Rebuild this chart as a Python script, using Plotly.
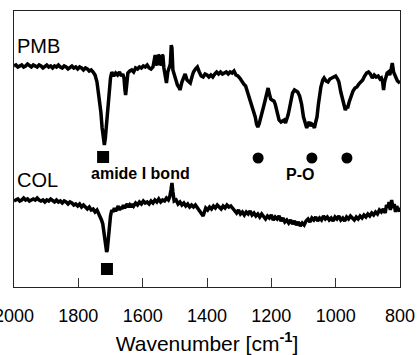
import plotly.graph_objects as go

# ---------------- data (arbitrary transmittance units) ----------------
pmb_wn = [2000,1994,1988,1982,1976,1970,1964,1958,1952,1946,1940,1934,1928,1922,1916,1910,1904,1898,1892,1886,
          1880,1874,1868,1862,1856,1850,1844,1838,1832,1826,1820,1814,1808,1802,1796,1790,1784,1778,1772,1766,
          1760,1754,1748,1742,1736,1730,1726,1722,1719,1716,1712,1708,1704,1700,1696,1690,1684,1678,1672,1666,
          1662,1658,1655,1653,1650,1646,1640,1634,1628,1622,1616,1610,1604,1598,1592,1586,1580,1574,1568,1564,
          1561,1558,1555,1552,1549,1546,1543,1540,1537,1534,1530,1526,1522,1518,1514,1511,1509,1506,1502,1498,
          1492,1486,1484,1478,1472,1468,1462,1456,1452,1446,1442,1436,1430,1424,1418,1412,1406,1400,1394,1388,
          1382,1376,1370,1364,1358,1352,1346,1340,1334,1328,1322,1316,1310,1304,1298,1292,1286,1280,1274,1268,
          1262,1256,1250,1246,1242,1238,1234,1228,1222,1216,1210,1206,1202,1198,1192,1188,1184,1180,1176,1170,
          1166,1160,1156,1152,1148,1144,1140,1134,1128,1122,1118,1112,1106,1100,1096,1090,1086,1082,1078,1074,
          1070,1066,1062,1058,1054,1050,1046,1040,1036,1030,1024,1018,1012,1006,1000,994,990,984,978,974,
          970,966,962,958,952,946,940,934,928,922,916,910,904,898,892,886,880,874,868,862,
          858,854,851,848,844,840,836,832,828,824,820,816,812,808,804,800]
pmb_t = [234,235,233,234,235,233,234,236,234,233,235,234,233,235,234,232,234,235,233,234,
         232,234,233,235,233,232,234,233,231,233,234,232,233,231,233,232,230,232,231,229,
         230,228,225,218,205,188,172,158,155,162,178,193,210,222,228,224,227,225,228,224,
         226,222,210,205,214,227,229,230,228,232,231,233,232,234,233,235,232,231,233,240,
         245,236,235,245,244,235,236,245,244,232,225,217,228,232,236,255,252,230,225,222,
         215,212,210,218,224,226,220,218,217,224,228,231,233,228,224,223,226,225,223,225,
         223,226,228,226,228,226,227,228,226,228,227,229,225,224,222,218,216,214,208,202,
         194,188,183,176,173,176,182,188,196,204,212,206,201,200,199,196,190,183,180,178,
         179,180,177,180,185,191,198,207,210,209,208,204,196,183,178,172,176,178,174,176,
         175,172,178,183,195,207,213,220,222,219,218,221,222,223,224,221,218,208,200,192,
         190,193,193,198,205,209,212,213,216,218,220,224,227,228,226,222,225,223,224,221,
         222,218,210,218,222,227,228,225,230,237,228,224,222,219,218,217]

col_wn = [2000,1994,1988,1982,1976,1970,1964,1958,1952,1946,1940,1934,1928,1922,1916,1910,1904,1898,1892,1886,
          1880,1874,1868,1862,1856,1850,1844,1838,1832,1826,1820,1814,1808,1802,1796,1790,1784,1778,1772,1766,
          1760,1754,1748,1742,1736,1732,1728,1724,1720,1716,1712,1710,1707,1704,1700,1696,1692,1688,1684,1680,
          1676,1672,1668,1664,1660,1656,1652,1648,1644,1640,1636,1632,1628,1622,1616,1610,1604,1598,1592,1586,
          1580,1574,1568,1562,1556,1550,1544,1538,1532,1526,1520,1516,1512,1509,1506,1502,1496,1490,1484,1478,
          1472,1466,1460,1454,1448,1442,1436,1430,1424,1418,1412,1408,1404,1398,1392,1386,1380,1374,1368,1362,
          1356,1350,1344,1338,1332,1326,1320,1314,1308,1302,1296,1290,1284,1278,1272,1266,1260,1254,1248,1242,
          1236,1230,1224,1218,1212,1206,1200,1194,1188,1182,1176,1170,1164,1158,1152,1146,1140,1134,1128,1122,
          1116,1110,1104,1098,1092,1086,1080,1074,1068,1062,1056,1050,1044,1038,1032,1026,1020,1014,1008,1002,
          996,990,984,978,972,966,960,954,948,942,936,930,924,918,912,906,900,894,888,882,
          876,870,864,858,852,846,842,838,834,830,826,822,818,814,810,806,802,800]
col_t = [99,100,101,99,100,102,100,101,99,100,101,100,102,100,99,100,98,100,99,101,
         99,98,100,98,99,97,99,98,96,98,97,95,96,94,96,93,95,93,91,93,
         90,91,88,90,86,84,80,76,68,58,48,50,62,76,84,90,88,92,89,91,
         94,90,93,91,95,92,94,96,93,95,93,96,94,97,95,98,96,99,97,98,
         96,99,97,100,98,101,98,100,99,102,100,103,110,117,108,99,100,96,98,95,
         97,94,96,93,95,93,95,92,89,86,84,88,92,90,93,91,94,92,95,93,
         91,94,92,95,93,94,92,89,87,90,86,88,85,88,86,89,85,87,84,86,
         83,86,84,81,84,82,85,80,83,81,84,79,82,78,80,77,80,76,79,75,
         78,74,77,75,79,81,78,82,80,83,79,82,80,84,81,83,80,82,79,83,
         81,84,80,82,79,83,81,84,82,80,83,81,84,82,85,83,86,84,87,85,
         88,86,90,88,91,87,95,92,98,90,100,92,96,88,94,89,92,88]

amide_wn = [1723, 1711]
amide_t = [143, 31]
po_wn = [1241, 1074, 965]
po_t = [142, 142, 142]

labels = ["PMB", "COL"]
label_t = [254, 120]
tick_vals = [2000, 1800, 1600, 1400, 1200, 1000, 800]

FONT = "Liberation Sans, Arial, sans-serif"

fig = go.Figure()
fig.add_trace(go.Scatter(x=pmb_wn, y=pmb_t, mode="lines", line=dict(color="black", width=3.5), showlegend=False))
fig.add_trace(go.Scatter(x=col_wn, y=col_t, mode="lines", line=dict(color="black", width=3.5), showlegend=False))
fig.add_trace(go.Scatter(x=amide_wn, y=amide_t, mode="markers",
                         marker=dict(symbol="square", size=12, color="black"), showlegend=False))
fig.add_trace(go.Scatter(x=po_wn, y=po_t, mode="markers",
                         marker=dict(symbol="circle", size=11, color="black"), showlegend=False))

annotations = []
for lab, t in zip(labels, label_t):
    annotations.append(dict(x=0, xref="paper", y=t, yref="y", text=lab, showarrow=False,
                            xanchor="left", yanchor="middle", xshift=1,
                            font=dict(family=FONT, size=20, color="black")))
annotations.append(dict(x=1608, y=127, text="<b>amide I bond</b>", showarrow=False,
                        font=dict(family=FONT, size=16, color="black")))
annotations.append(dict(x=1111, y=126, text="<b>P-O</b>", showarrow=False,
                        font=dict(family=FONT, size=16, color="black")))

fig.update_layout(
    width=417, height=355,
    margin=dict(l=14, r=17, t=11, b=68, autoexpand=False),
    paper_bgcolor="white", plot_bgcolor="white",
    font=dict(family=FONT, color="black"),
    annotations=annotations,
    xaxis=dict(range=[2000, 800], tickvals=tick_vals, ticks="inside", ticklen=9, tickwidth=1,
               tickcolor="#333", showline=True, linecolor="#222", linewidth=1, mirror=True,
               showgrid=False, zeroline=False, ticklabeloverflow="allow", automargin=False,
               ticklabelstandoff=12,
               tickfont=dict(family=FONT, size=18, color="black"),
               title=dict(text="Wavenumber [cm<sup><b>-1</b></sup>]", font=dict(family=FONT, size=21, color="black"),
                          standoff=16)),
    yaxis=dict(range=[13, 289], showticklabels=False, ticks="", showline=True, linecolor="#222",
               linewidth=1, mirror=True, showgrid=False, zeroline=False, automargin=False),
)

fig.write_html("out.html", config={"displayModeBar": False},
               post_script="document.body.style.margin='0';document.body.style.overflow='hidden';")
